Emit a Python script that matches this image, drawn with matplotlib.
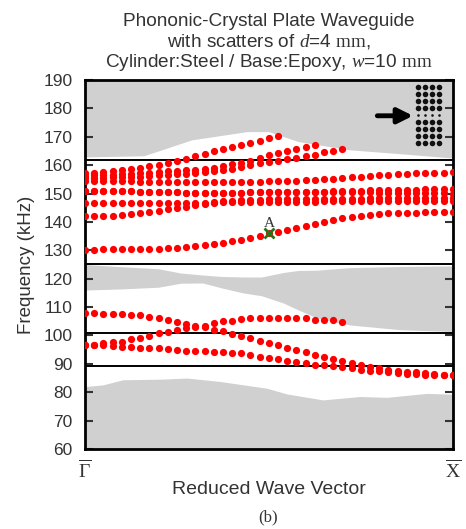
import numpy as np
import matplotlib.pyplot as plt

plt.rcParams['font.family'] = ['Liberation Sans', 'DejaVu Sans']
plt.rcParams['mathtext.fontset'] = 'custom'
plt.rcParams['mathtext.rm'] = 'Liberation Serif'
plt.rcParams['mathtext.it'] = 'Liberation Serif:italic'

# reduced wave vector grid (Gamma -> X), 41 points
k = np.linspace(0.0, 1.0, 41)

# band edges of the bulk (grey) regions
k_top = [0.0, 0.16, 0.29, 0.44, 0.50, 0.58, 0.72, 0.86, 1.0]
f_top = [162.9, 163.3, 168.9, 171.8, 171.8, 168.3, 165.4, 164.0, 162.5]

k_mid = [0.0, 0.10, 0.20, 0.26, 0.32, 0.37, 0.43, 0.48, 0.54, 0.58, 0.63, 0.72, 0.86, 1.0]
f_mid_hi = [125.0, 124.2, 123.5, 122.0, 121.3, 120.8, 120.6, 120.6, 122.2, 122.9, 123.0, 123.9, 124.3, 124.5]
f_mid_lo = [116.0, 116.4, 117.0, 118.4, 118.5, 116.8, 115.0, 114.0, 111.4, 109.0, 106.2, 103.7, 102.0, 101.4]

k_bot = [0.0, 0.049, 0.103, 0.204, 0.277, 0.367, 0.495, 0.549, 0.647, 0.748, 0.821, 0.930, 1.0]
f_bot = [82.0, 82.6, 84.4, 84.6, 85.0, 83.8, 81.4, 79.4, 77.3, 78.5, 78.2, 79.6, 79.3]

# horizontal reference lines (kHz)
h_lines = [161.8, 125.1, 101.0, 89.3]

# waveguide modes, one value per k point (bands that leave the gap stop early)
band_u1 = [157.3, 157.4, 157.6, 157.9, 158.3, 158.7, 159.1, 159.6, 160.2, 160.8, 161.5,
           162.3, 163.2, 164.1, 165.0, 165.8, 166.5, 167.2, 167.9, 168.6, 169.4, 170.1]
band_u2 = [156.3, 156.4, 156.5, 156.6, 156.8, 157.0, 157.2, 157.4, 157.6, 157.8, 158.0,
           158.2, 158.4, 158.6, 159.1, 159.7, 160.3, 160.9, 161.6, 162.6, 163.4, 164.3,
           165.1, 165.8, 166.5, 167.1]
band_u3 = [155.5, 155.5, 155.6, 155.7, 155.8, 155.9, 156.0, 156.2, 156.4, 156.6, 156.8,
           157.0, 157.3, 157.6, 157.9, 158.3, 158.8, 159.4, 160.0, 160.6, 161.2, 161.6,
           162.0, 162.4, 163.2, 163.6, 164.5, 165.0, 165.7]
band_u4 = [154.5, 154.5, 154.4, 154.4, 154.3, 154.3, 154.2, 154.2, 154.2, 154.2, 154.2,
           154.2, 154.2, 154.2, 154.2, 154.2, 154.2, 154.2, 154.2, 154.2, 154.3, 154.3,
           154.4, 154.5, 154.6, 154.8, 155.0, 155.2, 155.5, 155.7, 156.0, 156.2, 156.4,
           156.6, 156.8, 157.0, 157.1, 157.2, 157.3, 157.4, 157.5]
band_u5 = [151.0, 151.0, 150.9, 150.9, 150.8, 150.8, 150.7, 150.7, 150.6, 150.5, 150.4,
           150.3, 150.2, 150.1, 150.1, 150.1, 150.2, 150.3, 150.4, 150.5, 150.6, 150.6,
           150.7, 150.7, 150.7, 150.7, 150.7, 150.8, 150.8, 150.9, 151.0, 151.1, 151.2,
           151.3, 151.3, 151.4, 151.4, 151.5, 151.5, 151.6, 151.6]
band_u8 = [151.0, 151.0, 150.9, 150.9, 150.8, 150.8, 150.7, 150.7, 150.6, 150.5, 150.4,
           150.3, 150.2, 150.1, 150.1, 150.1, 150.2, 150.3, 150.4, 150.5, 150.6, 150.6,
           150.7, 150.7, 150.7, 150.7, 150.6, 150.6, 150.5, 150.5, 150.4, 150.4, 150.3,
           150.3, 150.2, 150.2, 150.2, 150.1, 150.1, 150.1, 150.0]
band_u6 = [146.6, 146.6, 146.6, 146.6, 146.6, 146.6, 146.6, 146.6, 146.6, 146.6, 146.5,
           146.5, 146.6, 146.8, 147.0, 147.2, 147.4, 147.6, 147.7, 147.8, 147.9, 148.0,
           148.0, 148.0, 148.0, 148.1, 148.1, 148.1, 148.2, 148.2, 148.2, 148.3, 148.3,
           148.4, 148.4, 148.4, 148.5, 148.5, 148.5, 148.6, 148.6]
band_u7 = [142.1, 142.1, 142.1, 142.2, 142.4, 142.7, 143.0, 143.4, 143.9, 144.4, 144.9,
           145.4, 145.9, 146.4, 146.8, 147.0, 147.1, 147.1, 147.1, 147.1, 147.1, 147.1,
           147.1, 147.1, 147.1, 147.1, 147.2, 147.2, 147.2, 147.2, 147.2, 147.3, 147.3,
           147.3, 147.3, 147.3, 147.4, 147.4, 147.4, 147.4, 147.4]
band_a = [130.0, 130.1, 130.3, 130.4, 130.5, 130.5, 130.5, 130.5, 130.5, 130.7, 130.9,
          131.2, 131.5, 131.9, 132.3, 132.7, 133.2, 133.8, 134.4, 135.2, 136.0, 136.6,
          137.2, 137.8, 138.6, 139.3, 140.0, 140.7, 141.3, 141.7, 142.1, 142.4, 142.7,
          143.0, 143.1, 143.2, 143.3, 143.4, 143.4, 143.5, 143.6]
band_l1 = [108.0, 108.0, 107.5, 107.5, 107.5, 107.1, 107.1, 106.6, 106.0, 105.4, 104.8,
           104.0, 103.3, 103.0, 102.1, 101.7, 100.4, 99.8, 99.0, 98.0, 97.4, 96.6,
           95.5, 94.9, 94.0, 93.1, 92.3, 91.6, 91.0, 90.2, 89.6, 88.9, 88.4, 88.0,
           87.6, 87.3, 87.0, 86.7, 86.4, 86.1, 85.9]
band_l2 = [96.6, 96.6, 97.2, 97.6, 97.8, 98.6, 99.2, 99.8, 100.7, 101.1, 102.1,
           102.8, 103.1, 103.5, 104.3, 105.2, 105.0, 105.7, 106.0, 106.0, 106.0, 106.0,
           106.0, 106.0, 106.0, 105.4, 105.4, 105.4, 104.8]
band_l3 = [96.6, 96.6, 96.5, 96.3, 96.0, 96.0, 95.7, 95.5, 95.5, 95.3, 94.9,
           94.5, 94.5, 94.6, 94.3, 94.0, 93.7, 93.7, 93.1, 92.5, 92.2, 91.6,
           91.1, 90.5, 90.2, 89.6, 89.6, 89.2, 88.8, 88.4, 87.8, 87.6, 87.6, 87.2,
           86.9, 86.6, 86.4, 86.1, 86.1, 86.0, 86.0]
bands = [band_u1, band_u2, band_u3, band_u4, band_u5, band_u8, band_u6, band_u7,
         band_a, band_l1, band_l2, band_l3]

# marked mode A
point_a = (0.5, 136.0)

fig = plt.figure(figsize=(4.66, 5.29), dpi=100)
ax = fig.add_axes([0.1824, 0.1512, 0.7891, 0.6976])

grey = '#d0d0d0'
ax.fill_between(k_top, f_top, 190, color=grey, lw=0)
ax.fill_between(k_mid, f_mid_lo, f_mid_hi, color=grey, lw=0)
ax.fill_between(k_bot, 60, f_bot, color=grey, lw=0)

for f in h_lines:
    ax.axhline(f, color='black', lw=1.4, zorder=2)

for b in bands:
    ax.plot(k[:len(b)], b, 'o', color='#ff0000', ms=5.2, mec='none', zorder=3)

ax.plot(*point_a, 'x', color='#1a7a1a', ms=6.5, mew=2, zorder=4)
ax.text(point_a[0], point_a[1] + 1.2, 'A', ha='center', va='bottom',
        fontsize=11, family='Liberation Serif', color='#333333')

# unit cell sketch with the line defect
cols = np.linspace(0.906, 0.963, 4)
rows = np.linspace(0.980, 0.828, 9)
for j, yy in enumerate(rows):
    size = 3.5 if j == 4 else 16
    ax.scatter(cols, [yy] * 4, s=size, color='#111111', transform=ax.transAxes, zorder=5, lw=0)
ax.annotate('', xy=(0.892, 0.903), xytext=(0.795, 0.903), xycoords='axes fraction',
            arrowprops=dict(arrowstyle='-|>,head_length=0.9,head_width=0.45',
                            color='black', lw=3.5, shrinkA=0, shrinkB=0))

ax.set_xlim(0, 1)
ax.set_ylim(60, 190)
ax.set_yticks(np.arange(60, 191, 10))
ax.set_xticks([0, 1])
ax.set_xticklabels([r'$\overline{\mathrm{\Gamma}}$', r'$\overline{\mathrm{X}}$'], fontsize=14)
ax.tick_params(axis='x', length=0, pad=7, colors='#333333')
ax.tick_params(axis='y', direction='in', length=6, width=1.5, right=True,
               labelsize=12.5, colors='#333333', pad=9)
for s in ax.spines.values():
    s.set_linewidth(2)

ax.set_ylabel('Frequency (kHz)', fontsize=13.5, color='#333333', labelpad=6)
ax.set_xlabel('Reduced Wave Vector', fontsize=14, color='#333333', labelpad=0)
ax.set_title('Phononic-Crystal Plate Waveguide\n'
             r'with scatters of $\mathit{d}$=4 $\mathrm{mm}$,' '\n'
             r'Cylinder:Steel / Base:Epoxy, $\mathit{w}$=10 $\mathrm{mm}$',
             fontsize=13.7, color='#333333', linespacing=1.12, pad=9)
fig.text(0.576, 0.022, '(b)', ha='center', va='center', fontsize=12,
         family='Liberation Serif', color='#333333')

fig.savefig('out.png', dpi=100)
